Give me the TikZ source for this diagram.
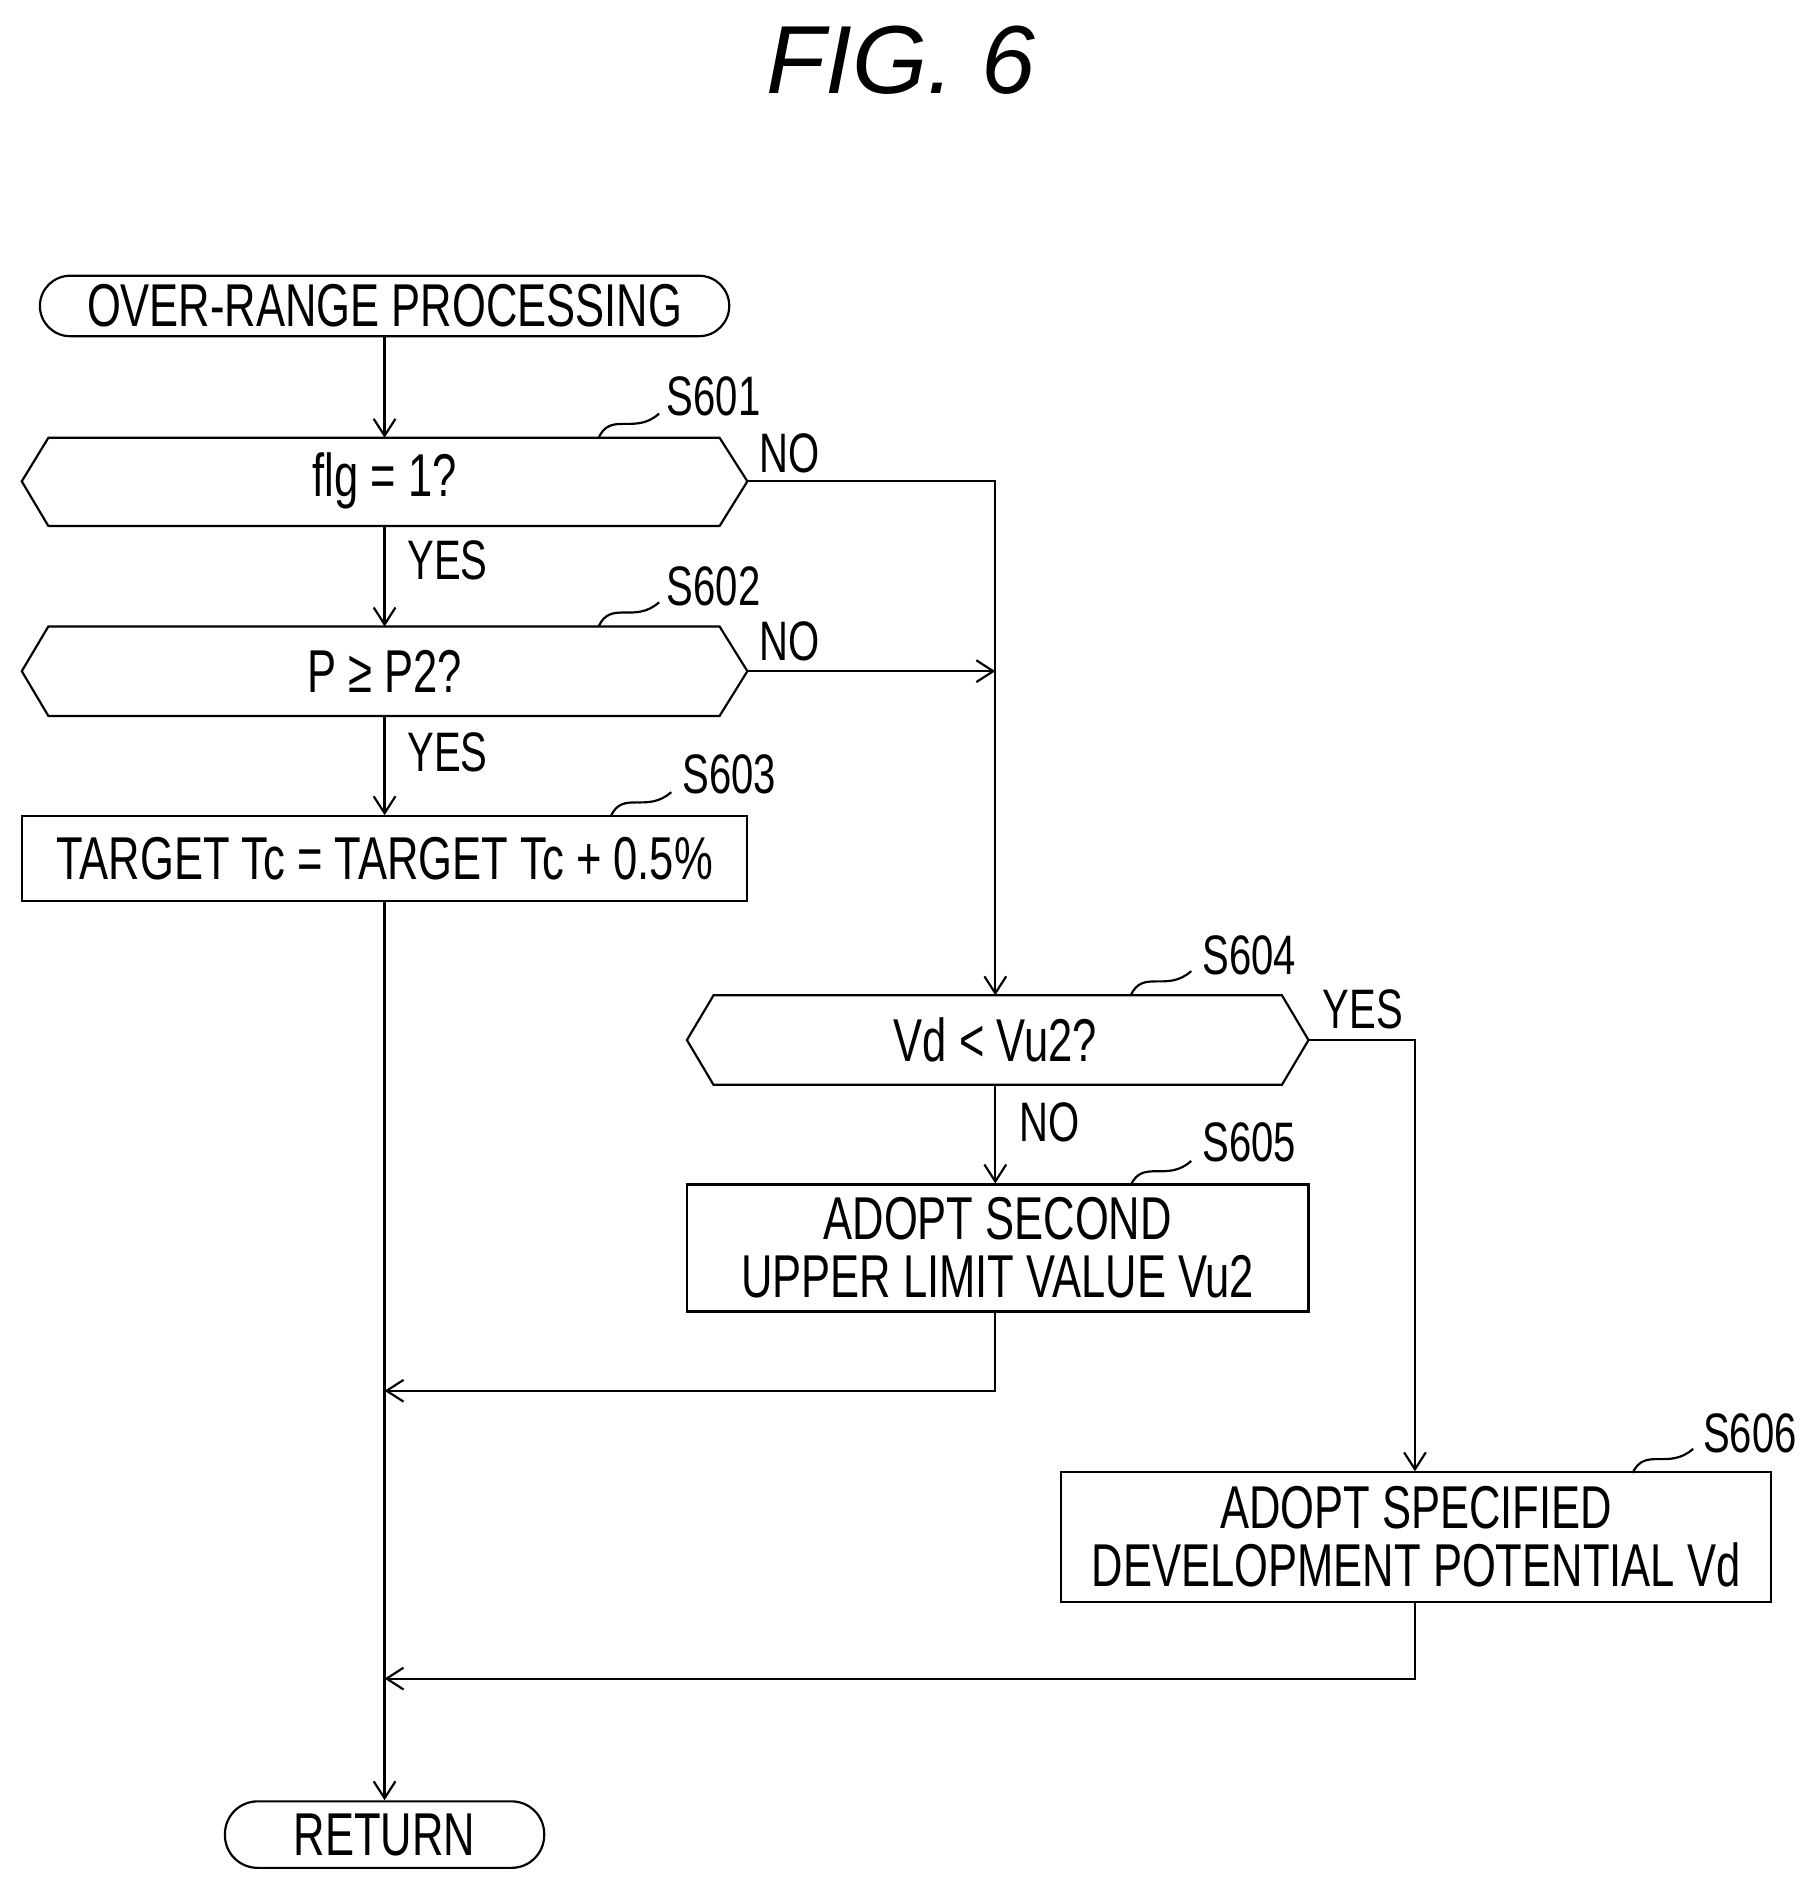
\documentclass[tikz,border=0pt]{standalone}
\usepackage{fontspec}
\setmainfont{Liberation Sans}
\newfontfamily\nar[FakeStretch=0.72]{Liberation Sans}
\usetikzlibrary{arrows.meta}
\begin{document}
\begin{tikzpicture}[x=1pt,y=-1pt,
  ln/.style={line width=1.8pt},
  arr/.style={ln,-{Straight Barb[length=14pt,width=18pt,line width=1.8pt]}},
  txt/.style={font=\nar\fontsize{50}{56}\selectfont,align=center,inner sep=0pt},
  lab/.style={font=\nar\fontsize{46}{50}\selectfont,inner sep=0pt},
  box/.style={draw,ln,inner sep=0pt},
  lead/.style={ln}]
\useasboundingbox (0,0) rectangle (1500,1562);
\node[font=\itshape\fontsize{80}{84}\selectfont] (title) at (745,50) {FIG. 6};
% start
\node[box,rounded corners=25pt,minimum width=570pt,minimum height=50pt,txt] (start) at (318,253) {OVER-RANGE PROCESSING};
% S601
\draw[ln] (18,398)--(40,362)--(595,362)--(618,398)--(595,435)--(40,435)--cycle;
\node[txt] (t1) at (318,398) {flg = 1?};
\coordinate (d1n) at (318,362); \coordinate (d1s) at (318,435); \coordinate (d1e) at (618,398);
\node[lab] (l1) at (590,328) {S601};
\draw[lead] (495,362) .. controls (505,340) and (525,360) .. (545,342);
% S602
\draw[ln] (18,555)--(40,518)--(595,518)--(618,555)--(595,592)--(40,592)--cycle;
\node[txt] (t2) at (318,555) {P ≥ P2?};
\coordinate (d2n) at (318,518); \coordinate (d2s) at (318,592); \coordinate (d2e) at (618,555);
\node[lab] (l2) at (590,485) {S602};
\draw[lead] (495,518) .. controls (505,496) and (525,516) .. (545,498);
% S603
\node[box,minimum width=600pt,minimum height=70pt,txt] (b3) at (318,710) {TARGET Tc = TARGET Tc + 0.5\%};
\node[lab] (l3) at (603,640) {S603};
\draw[lead] (505,675) .. controls (515,653) and (535,673) .. (555,655);
% S604
\draw[ln] (568,860)--(590,823)--(1060,823)--(1082,860)--(1060,897)--(590,897)--cycle;
\node[txt] (t4) at (823,860) {Vd < Vu2?};
\coordinate (d4n) at (823,823); \coordinate (d4s) at (823,897); \coordinate (d4e) at (1082,860);
\node[lab] (l4) at (1033,790) {S604};
\draw[lead] (935,823) .. controls (945,801) and (965,821) .. (985,803);
% S605
\node[box,minimum width=514pt,minimum height=105pt,txt] (b5) at (825,1032) {ADOPT SECOND\\[-8pt]UPPER LIMIT VALUE Vu2};
\node[lab] (l5) at (1033,945) {S605};
\draw[lead] (935,980) .. controls (945,958) and (965,978) .. (985,960);
% S606
\node[box,minimum width=587pt,minimum height=107pt,txt] (b6) at (1171,1271) {ADOPT SPECIFIED\\[-8pt]DEVELOPMENT POTENTIAL Vd};
\node[lab] (l6) at (1447,1185) {S606};
\draw[lead] (1350,1218) .. controls (1360,1196) and (1380,1216) .. (1400,1198);
% return
\node[box,rounded corners=27pt,minimum width=264pt,minimum height=55pt,txt] (ret) at (318,1517) {RETURN};
% labels
\node[lab] (n1) at (653,375) {NO};
\node[lab] (y1) at (370,463) {YES};
\node[lab] (n2) at (653,530) {NO};
\node[lab] (y2) at (370,622) {YES};
\node[lab] (y4) at (1127,835) {YES};
\node[lab] (n4) at (868,928) {NO};
% connectors
\coordinate (j1) at (823,555);
\coordinate (j2) at (318,1150);
\coordinate (j3) at (318,1388);
\draw[arr] (start.south) -- (d1n);
\draw[arr] (d1s) -- (d2n);
\draw[arr] (d2s) -- (b3.north);
\draw[arr] (d1e) -| (d4n);
\draw[arr] (d2e) -- (j1);
\draw[arr] (d4s) -- (b5.north -| d4s);
\draw[arr] (d4e) -| (b6.north -| 1170,0);
\draw[arr] (b5.south -| d4s) |- (j2);
\draw[arr] (b6.south -| 1170,0) |- (j3);
\draw[arr] (b3.south) -- (ret.north);
\end{tikzpicture}
\end{document}
